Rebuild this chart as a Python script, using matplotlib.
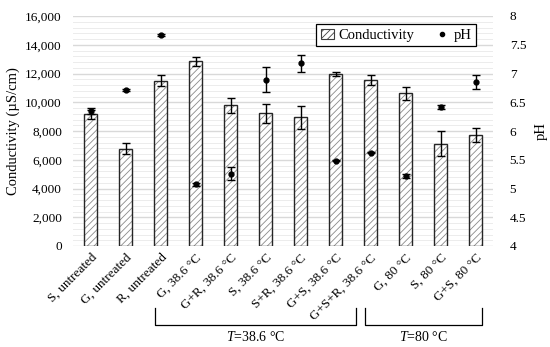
import numpy as np
import matplotlib
matplotlib.use("Agg")
import matplotlib.pyplot as plt
from matplotlib.ticker import FuncFormatter, MultipleLocator
from matplotlib.patches import Patch
from matplotlib.lines import Line2D

plt.rcParams['font.family'] = ['Liberation Serif', 'DejaVu Serif']
plt.rcParams['mathtext.fontset'] = 'custom'
plt.rcParams['mathtext.it'] = 'Liberation Serif:italic'
plt.rcParams['mathtext.rm'] = 'Liberation Serif'
plt.rcParams['hatch.linewidth'] = 0.6

labels = ['S, untreated', 'G, untreated', 'R, untreated',
          'G, 38.6 °C', 'G+R, 38.6 °C', 'S, 38.6 °C', 'S+R, 38.6 °C',
          'G+S, 38.6 °C', 'G+S+R, 38.6 °C',
          'G, 80 °C', 'S, 80 °C', 'G+S, 80 °C']
cond = [9150, 6770, 11500, 12850, 9790, 9230, 8950, 11970, 11530, 10620, 7100, 7720]
cond_err = [330, 400, 370, 320, 530, 640, 790, 160, 350, 460, 870, 460]
ph = [6.35, 6.71, 7.67, 5.07, 5.26, 6.89, 7.18, 5.48, 5.62, 5.22, 6.42, 6.85]
ph_err = [0.05, 0.02, 0.02, 0.03, 0.11, 0.22, 0.15, 0.01, 0.01, 0.04, 0.03, 0.12]

x = np.arange(len(labels))

fig = plt.figure(figsize=(5.5, 3.47), dpi=100)
ax = fig.add_axes([73/550, 1-246/347, 420/550, 230/347])

# gridlines
ax.yaxis.set_major_locator(MultipleLocator(2000))
ax.yaxis.set_minor_locator(MultipleLocator(400))
ax.grid(which='major', axis='y', color='#d9d9d9', lw=1.0)
ax.grid(which='minor', axis='y', color='#ececec', lw=0.7)
ax.set_axisbelow(True)

# bars: hatch in grey, outline in black
ax.bar(x, cond, width=0.36, color='white', edgecolor='#8a8a8a', hatch='/////', lw=0)
ax.bar(x, cond, width=0.36, fill=False, edgecolor='#262626', lw=1.0)
ax.errorbar(x, cond, yerr=cond_err, fmt='none', ecolor='black', elinewidth=1, capsize=3, capthick=1)

ax.set_xlim(-0.5, len(labels) - 0.5)
ax.set_ylim(0, 16000)
ax.yaxis.set_major_formatter(FuncFormatter(lambda v, p: f'{int(v):,}'))
ax.set_xticks(x)
ax.set_xticklabels(labels, rotation=45, ha='right', rotation_mode='anchor', fontsize=9.5)
ax.tick_params(axis='both', which='both', length=0, labelsize=9.5)
ax.tick_params(axis='y', pad=8)
ax.tick_params(axis='x', pad=4)
for s in ax.spines.values():
    s.set_visible(False)
ax.set_ylabel('Conductivity (µS/cm)', fontsize=10.5, labelpad=4)

ax2 = ax.twinx()
ax2.errorbar(x, ph, yerr=ph_err, fmt='o', color='black', ms=3.5, elinewidth=1, capsize=3, capthick=1)
ax2.set_ylim(4, 8)
ax2.yaxis.set_major_locator(MultipleLocator(0.5))
ax2.yaxis.set_major_formatter(FuncFormatter(lambda v, p: f'{v:g}'))
ax2.tick_params(axis='y', length=0, labelsize=9.5, pad=12)
for s in ax2.spines.values():
    s.set_visible(False)
ax2.set_ylabel('pH', fontsize=10.5, labelpad=6)

handles = [Patch(facecolor='white', edgecolor='#404040', hatch='/////', lw=0.8),
           Line2D([], [], marker='o', color='black', ls='none', ms=3)]
leg = ax2.legend(handles, ['Conductivity', 'pH'], ncol=2, loc='upper right',
                 bbox_to_anchor=(0.976, 0.995), fontsize=10.5, fancybox=False,
                 edgecolor='black', framealpha=1, handlelength=0.9, handletextpad=0.3,
                 columnspacing=1.5, borderpad=0.3)
leg.get_frame().set_linewidth(0.9)

# group brackets below the tick labels
tr = ax.get_xaxis_transform()
groups = [(1.84, 7.59, '38.6 °C'), (7.84, 11.19, '80 °C')]
for x0, x1, t in groups:
    ax.plot([x0, x0, x1, x1], [-0.27, -0.343, -0.343, -0.27], transform=tr,
            color='black', lw=0.9, clip_on=False)
    ax.text((x0 + x1) / 2, -0.395, '$T$=' + t, transform=tr,
            ha='center', va='center', fontsize=10)

fig.savefig('out.png', dpi=100)
